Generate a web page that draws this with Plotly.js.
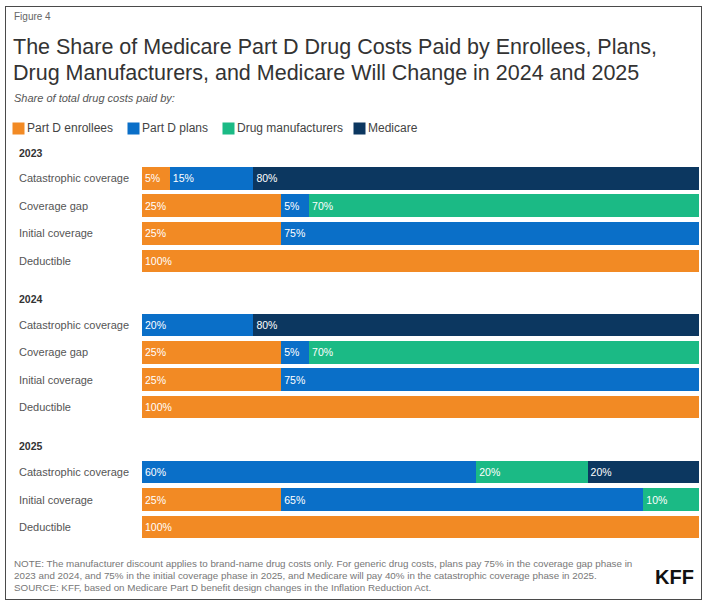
<!DOCTYPE html>
<html>
<head>
<meta charset="utf-8">
<script src="https://cdn.plot.ly/plotly-3.0.1.min.js"></script>
<style>
  html, body { margin: 0; padding: 0; background: #ffffff; }
  #wrap { position: relative; width: 702px; height: 600px; }
  #chart { position: absolute; left: 0; top: 0; width: 702px; height: 600px; }
  #frame { position: absolute; left: 5px; top: 6px; width: 695px; height: 592px; border: 1px solid #4a4a4a; pointer-events: none; }
</style>
</head>
<body>
<div id="wrap">
  <div id="chart"></div>
  <div id="frame"></div>
</div>
<script>
// ---- data ----
var seriesNames = ['Part D enrollees', 'Part D plans', 'Drug manufacturers', 'Medicare'];
var seriesColors = ['#F28A24', '#0A6FC8', '#1BBA85', '#0C3760'];

var years = ['2023', '2024', '2025'];

var categories2023 = ['Catastrophic coverage', 'Coverage gap', 'Initial coverage', 'Deductible'];
var enrollees2023 = [5, 25, 25, 100];
var plans2023 = [15, 5, 75, 0];
var manufacturers2023 = [0, 70, 0, 0];
var medicare2023 = [80, 0, 0, 0];

var categories2024 = ['Catastrophic coverage', 'Coverage gap', 'Initial coverage', 'Deductible'];
var enrollees2024 = [0, 25, 25, 100];
var plans2024 = [20, 5, 75, 0];
var manufacturers2024 = [0, 70, 0, 0];
var medicare2024 = [80, 0, 0, 0];

var categories2025 = ['Catastrophic coverage', 'Initial coverage', 'Deductible'];
var enrollees2025 = [0, 25, 100];
var plans2025 = [60, 65, 0];
var manufacturers2025 = [20, 10, 0];
var medicare2025 = [20, 0, 0];

// ---- layout helpers (pixel geometry) ----
var W = 702, H = 600, L = 142, R = 3;
function px(x) { return (x - L) / (W - L - R); }
function py(y) { return 1 - y / H; }

var panels = [
  { year: years[0], cats: categories2023, vals: [enrollees2023, plans2023, manufacturers2023, medicare2023], top: 164.2, bottom: 274.8, head: 153 },
  { year: years[1], cats: categories2024, vals: [enrollees2024, plans2024, manufacturers2024, medicare2024], top: 311.3, bottom: 420.7, head: 299 },
  { year: years[2], cats: categories2025, vals: [enrollees2025, plans2025, manufacturers2025, medicare2025], top: 458.3, bottom: 540.8, head: 446 }
];

var font = 'Liberation Sans, Arial, sans-serif';
var traces = [];
var annotations = [];
var layout = {
  width: W, height: H,
  margin: { l: L, r: R, t: 0, b: 0, pad: 0 },
  paper_bgcolor: '#ffffff', plot_bgcolor: '#ffffff',
  barmode: 'stack', bargap: 0.17,
  showlegend: false,
  font: { family: font, color: '#444' }
};

panels.forEach(function (p, i) {
  var yname = i === 0 ? 'y' : 'y' + (i + 1);
  var axname = i === 0 ? 'yaxis' : 'yaxis' + (i + 1);
  p.vals.forEach(function (vals, s) {
    traces.push({
      type: 'bar', orientation: 'h',
      x: vals, y: p.cats, yaxis: yname, xaxis: 'x',
      name: seriesNames[s],
      marker: { color: seriesColors[s], line: { width: 0 } },
      text: vals.map(function (v) { return v > 0 ? v + '%' : ''; }),
      textposition: 'inside', insidetextanchor: 'start',
      textfont: { color: '#ffffff', size: 10.5, family: font },
      constraintext: 'none',
      hoverinfo: 'skip', cliponaxis: false
    });
  });
  layout[axname] = {
    domain: [py(p.bottom), py(p.top)],
    type: 'category', categoryorder: 'array', categoryarray: p.cats,
    autorange: false, range: [p.cats.length - 0.5, -0.5],
    showticklabels: false, showgrid: false, zeroline: false, showline: false, ticks: ''
  };
  p.cats.forEach(function (c) {
    annotations.push({
      xref: 'paper', yref: yname, x: px(17), y: c, xanchor: 'left', yanchor: 'middle',
      text: c, showarrow: false, font: { size: 11, color: '#555', family: font }
    });
  });
  annotations.push({
    xref: 'paper', yref: 'paper', x: px(17), y: py(p.head), xanchor: 'left', yanchor: 'middle',
    text: '<b>' + p.year + '</b>', showarrow: false, font: { size: 10.5, color: '#333', family: font }
  });
});

layout.xaxis = { range: [0, 100], showticklabels: false, showgrid: false, zeroline: false, showline: false, ticks: '', fixedrange: true };

// title block
annotations.push({ xref: 'paper', yref: 'paper', x: px(12), y: py(17), xanchor: 'left', yanchor: 'middle',
  text: 'Figure 4', showarrow: false, font: { size: 10, color: '#666', family: font } });
annotations.push({ xref: 'paper', yref: 'paper', x: px(11), y: py(47), xanchor: 'left', yanchor: 'middle',
  text: 'The Share of Medicare Part D Drug Costs Paid by Enrollees, Plans,', showarrow: false, font: { size: 21.5, color: '#333', family: font } });
annotations.push({ xref: 'paper', yref: 'paper', x: px(11), y: py(73), xanchor: 'left', yanchor: 'middle',
  text: 'Drug Manufacturers, and Medicare Will Change in 2024 and 2025', showarrow: false, font: { size: 21.5, color: '#333', family: font } });
annotations.push({ xref: 'paper', yref: 'paper', x: px(12), y: py(98), xanchor: 'left', yanchor: 'middle',
  text: '<i>Share of total drug costs paid by:</i>', showarrow: false, font: { size: 11, color: '#555', family: font } });

// legend (manual)
var legendX = [12, 127, 222, 353];
seriesNames.forEach(function (n, s) {
  annotations.push({ xref: 'paper', yref: 'paper', x: px(legendX[s]), y: py(128), xanchor: 'left', yanchor: 'middle',
    text: ' ', showarrow: false, bgcolor: seriesColors[s], width: 11, height: 11, borderpad: 0, font: { size: 6 } });
  annotations.push({ xref: 'paper', yref: 'paper', x: px(legendX[s] + 13), y: py(128), xanchor: 'left', yanchor: 'middle',
    text: n, showarrow: false, font: { size: 12, color: '#444', family: font } });
});

// notes
var notes = [
  'NOTE: The manufacturer discount applies to brand-name drug costs only. For generic drug costs, plans pay 75% in the coverage gap phase in',
  '2023 and 2024, and 75% in the initial coverage phase in 2025, and Medicare will pay 40% in the catastrophic coverage phase in 2025.',
  'SOURCE: KFF, based on Medicare Part D benefit design changes in the Inflation Reduction Act.'
];
var noteY = [563, 575, 587];
notes.forEach(function (t, k) {
  annotations.push({ xref: 'paper', yref: 'paper', x: px(12), y: py(noteY[k]), xanchor: 'left', yanchor: 'middle',
    text: t, showarrow: false, font: { size: 9.8, color: '#777', family: font } });
});
annotations.push({ xref: 'paper', yref: 'paper', x: px(696), y: py(577), xanchor: 'right', yanchor: 'middle',
  text: '<b>KFF</b>', showarrow: false, font: { size: 20, color: '#111', family: font } });

layout.annotations = annotations;

Plotly.newPlot('chart', traces, layout, { displayModeBar: false, staticPlot: true });
</script>
</body>
</html>
